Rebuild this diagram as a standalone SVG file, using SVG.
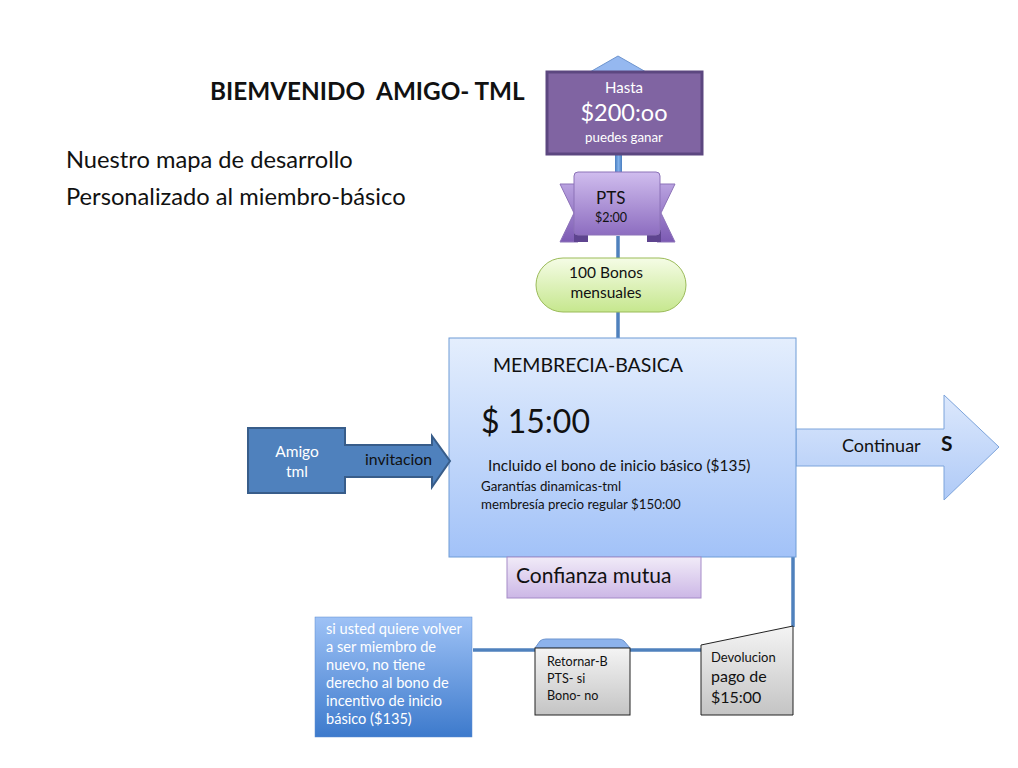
<svg xmlns="http://www.w3.org/2000/svg" width="1018" height="768" viewBox="0 0 1018 768">
<defs>
<linearGradient id="gMain" x1="0" y1="0" x2="0" y2="1"><stop offset="0" stop-color="#E4EEFD"/><stop offset="1" stop-color="#A2C2F8"/></linearGradient>
<linearGradient id="gArrow" x1="0" y1="0" x2="0" y2="1"><stop offset="0" stop-color="#DCE8FC"/><stop offset="1" stop-color="#AFCAF7"/></linearGradient>
<linearGradient id="gPts" x1="0" y1="0" x2="0" y2="1"><stop offset="0" stop-color="#D0BDEE"/><stop offset="1" stop-color="#8D6DC0"/></linearGradient>
<linearGradient id="gWing" x1="0" y1="0" x2="0" y2="1"><stop offset="0" stop-color="#B9A2E0"/><stop offset="1" stop-color="#7C5AB3"/></linearGradient>
<linearGradient id="gGreen" x1="0" y1="0" x2="0" y2="1"><stop offset="0" stop-color="#F5FCE6"/><stop offset="1" stop-color="#C6E78E"/></linearGradient>
<linearGradient id="gConf" x1="0" y1="0" x2="0" y2="1"><stop offset="0" stop-color="#F1EBF8"/><stop offset="1" stop-color="#CCB7E6"/></linearGradient>
<linearGradient id="gGray" x1="0" y1="0" x2="0" y2="1"><stop offset="0" stop-color="#F4F4F4"/><stop offset="1" stop-color="#C4C4C4"/></linearGradient>
<linearGradient id="gNote" x1="0" y1="0" x2="0" y2="1"><stop offset="0" stop-color="#9EC2F6"/><stop offset="1" stop-color="#3D7ACC"/></linearGradient>
<linearGradient id="gLine" x1="0" y1="0" x2="1" y2="0"><stop offset="0" stop-color="#4A7EC0"/><stop offset="0.5" stop-color="#7FB0EA"/><stop offset="1" stop-color="#4A7EC0"/></linearGradient>
</defs>
<style>
text{font-family:Lato,"Open Sans","Liberation Sans",sans-serif;fill:#111;white-space:pre}
.w{fill:#fff}
.conn{stroke:#4F81BD;stroke-width:3.5;fill:none}
</style>

<g id="header">
<text x="210" y="100" font-size="24.3" font-weight="bold" xml:space="preserve">BIEMVENIDO  AMIGO- TML</text>
<text x="66" y="168" font-size="23.7">Nuestro mapa de desarrollo</text>
<text x="66" y="205" font-size="23.7">Personalizado al miembro-básico</text>
</g>

<g id="connectors">
<rect x="615" y="153" width="7" height="19" fill="url(#gLine)"/>
<line class="conn" x1="618" y1="236" x2="618" y2="258"/>
<line class="conn" x1="618" y1="312" x2="618" y2="338"/>
<line class="conn" x1="793" y1="557" x2="793" y2="627"/>
<line class="conn" x1="473" y1="650" x2="705" y2="650"/>
</g>

<g id="hasta">
<polygon points="590,72 618,56 646,72" fill="#95B8F0" stroke="#6D94CE" stroke-width="1"/>
<rect x="547" y="72" width="155" height="82" fill="#8064A2" stroke="#5C4780" stroke-width="3"/>
<text class="w" x="624" y="93" font-size="15" text-anchor="middle">Hasta</text>
<text class="w" x="624" y="121" font-size="23.5" text-anchor="middle">$200:oo</text>
<text class="w" x="624" y="142" font-size="13.3" text-anchor="middle">puedes ganar</text>
</g>

<g id="pts">
<polygon points="560,184 578,184 578,242 560,242 574,213" fill="url(#gWing)" stroke="#8C72B8" stroke-width="1"/>
<polygon points="675,184 657,184 657,242 675,242 661,213" fill="url(#gWing)" stroke="#8C72B8" stroke-width="1"/>
<rect x="574" y="230" width="14" height="12" fill="#5E448F"/>
<rect x="647" y="230" width="14" height="12" fill="#5E448F"/>
<rect x="574" y="172" width="86" height="63" rx="4" fill="url(#gPts)" stroke="#8C72B8" stroke-width="1"/>
<text x="596" y="204" font-size="17">PTS</text>
<text x="595" y="222" font-size="12.5">$2:00</text>
</g>

<g id="bonos">
<rect x="536" y="258" width="150" height="54" rx="27" fill="url(#gGreen)" stroke="#9BBB59" stroke-width="1"/>
<text x="606" y="278" font-size="15.5" text-anchor="middle">100 Bonos</text>
<text x="606" y="298" font-size="15.5" text-anchor="middle">mensuales</text>
</g>

<g id="continuar">
<polygon points="796,429 944,429 944,395 999,447 944,500 944,466 796,466" fill="url(#gArrow)" stroke="#7DA4DB" stroke-width="1"/>
<text x="842" y="452" font-size="18">Continuar</text>
<text x="941" y="451" font-size="21" font-weight="bold">S</text>
</g>

<g id="membrecia">
<rect x="449" y="338" width="347" height="219" fill="url(#gMain)" stroke="#6E9CD6" stroke-width="1"/>
<text x="493" y="372" font-size="19.5">MEMBRECIA-BASICA</text>
<text x="481" y="433" font-size="32">$ 15:00</text>
<text x="488" y="471" font-size="15.4">Incluido el bono de inicio básico ($135)</text>
<text x="481" y="491" font-size="13.3">Garantías dinamicas-tml</text>
<text x="481" y="509" font-size="13.3">membresía precio regular $150:00</text>
</g>

<g id="amigo">
<polygon points="248,428 345,428 345,445 432,445 432,436 450,461 432,487 432,477 345,477 345,493 248,493" fill="#4F81BD" stroke="#385D8A" stroke-width="2"/>
<text class="w" x="297" y="457" font-size="15.5" text-anchor="middle">Amigo</text>
<text class="w" x="297" y="477" font-size="15.5" text-anchor="middle">tml</text>
<text x="365" y="465" font-size="15.8">invitacion</text>
</g>

<g id="confianza">
<rect x="507" y="557" width="194" height="41" fill="url(#gConf)" stroke="#A58BC8" stroke-width="1"/>
<text x="516" y="583" font-size="21">Confianza mutua</text>
</g>

<g id="devolucion">
<polygon points="701,645 793,626 793,715 701,715" fill="url(#gGray)" stroke="#222" stroke-width="1"/>
<text x="711" y="662" font-size="13">Devolucion</text>
<text x="711" y="682" font-size="16">pago de</text>
<text x="711" y="703" font-size="16">$15:00</text>
</g>

<g id="retornar">
<path d="M535,648 L540,641 Q542,639 546,639 L618,639 Q622,639 624,641 L630,648 Z" fill="#8DB3EC" stroke="#6D94CE" stroke-width="1"/>
<rect x="535" y="648" width="95" height="67" fill="url(#gGray)" stroke="#222" stroke-width="1"/>
<text x="547" y="666" font-size="12.6">Retornar-B</text>
<text x="547" y="683" font-size="12.6">PTS- si</text>
<text x="547" y="700" font-size="12.6">Bono- no</text>
</g>

<g id="nota">
<rect x="315" y="617" width="157" height="120" fill="url(#gNote)" stroke="#5B8BD0" stroke-width="0.5"/>
<text class="w" x="326" y="634" font-size="14.6">si usted quiere volver</text>
<text class="w" x="326" y="652" font-size="14.6">a ser miembro de</text>
<text class="w" x="326" y="670" font-size="14.6">nuevo, no tiene</text>
<text class="w" x="326" y="688" font-size="14.6">derecho al bono de</text>
<text class="w" x="326" y="706" font-size="14.6">incentivo de inicio</text>
<text class="w" x="326" y="724" font-size="14.6">básico ($135)</text>
</g>
</svg>
